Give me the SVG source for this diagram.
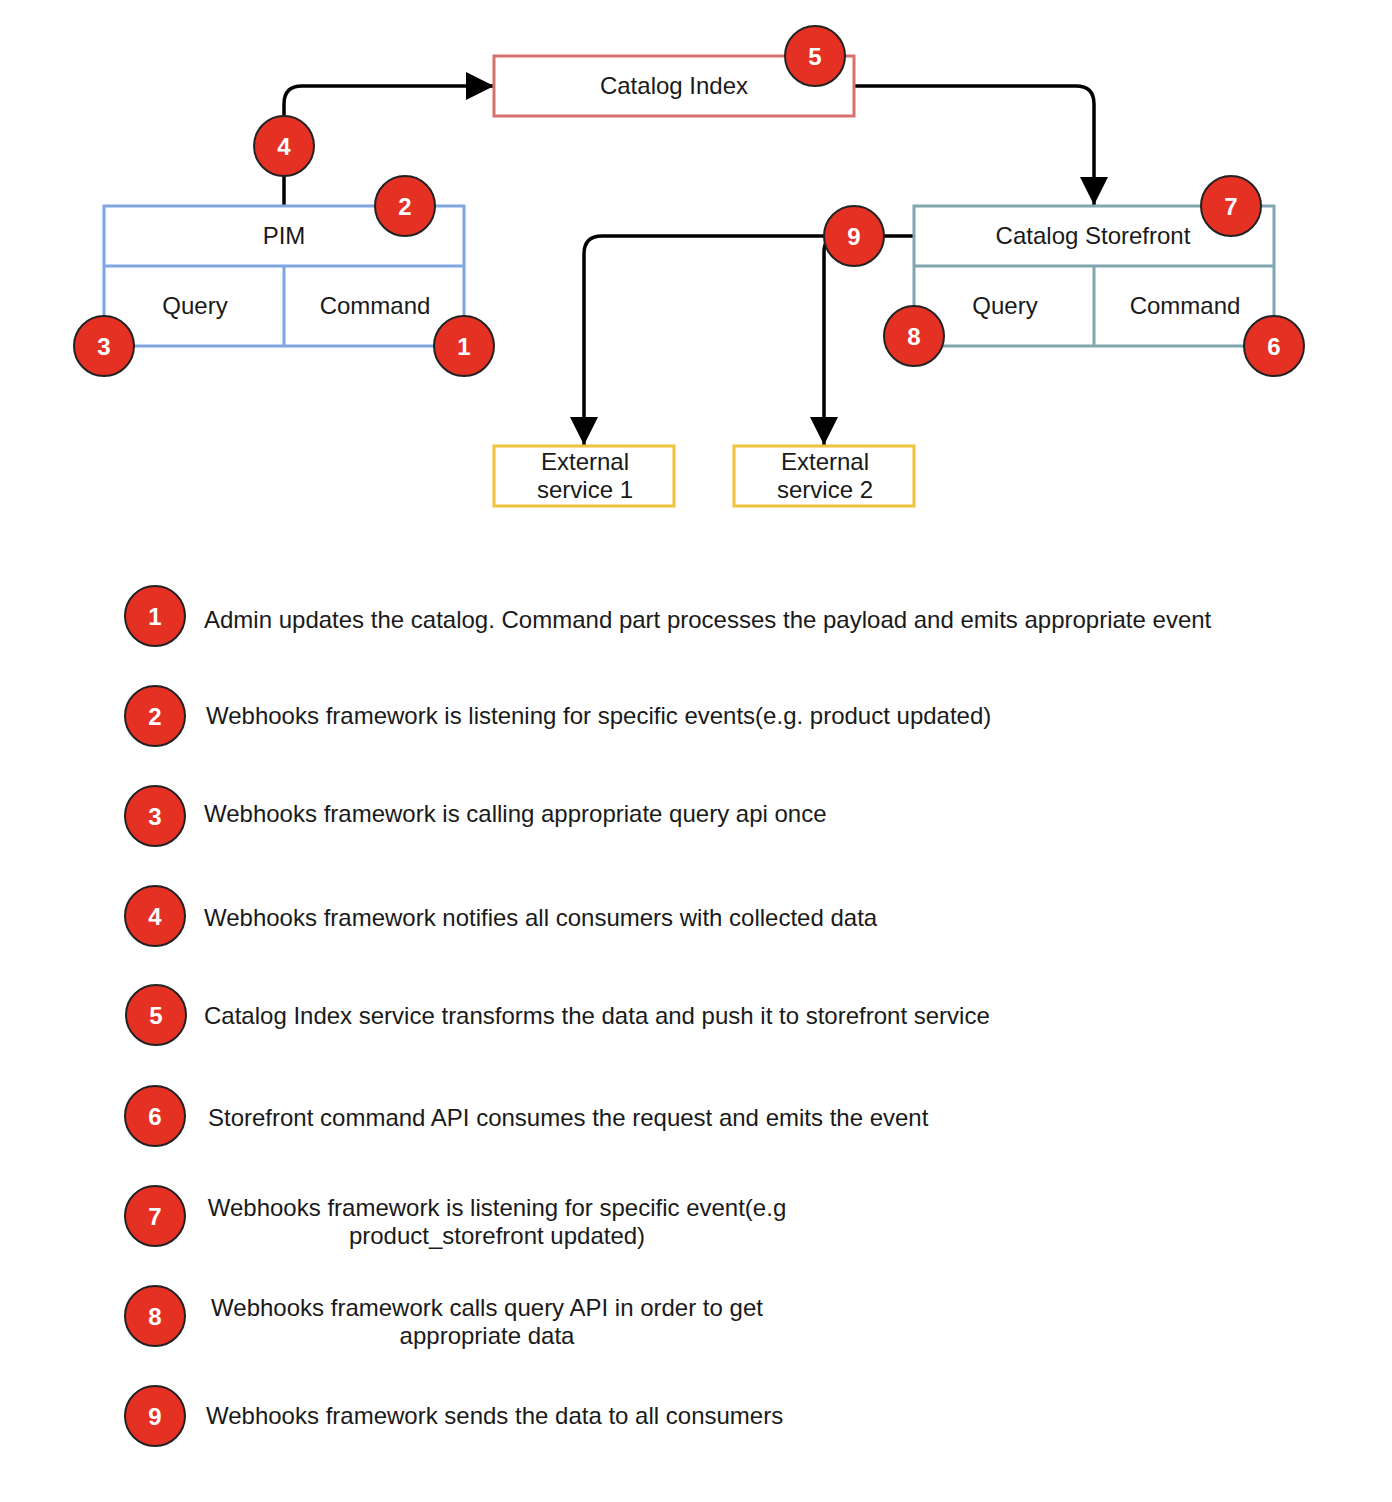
<svg xmlns="http://www.w3.org/2000/svg" width="1392" height="1502" viewBox="0 0 1392 1502">
<defs>
<marker id="arr" markerWidth="8" markerHeight="8" refX="8" refY="4" orient="auto" markerUnits="strokeWidth">
<path d="M0,0 L8,4 L0,8 Z" fill="#000"/>
</marker>
</defs>
<style>
text{font-family:"Liberation Sans",Arial,sans-serif;fill:#1a1a1a}
.lbl{font-size:24px;text-anchor:middle}
.leg{font-size:24px}
.box{fill:#fff;stroke-width:3}
.pim{stroke:#7ea6e0}
.idx{stroke:#d97070}
.sf{stroke:#80a6b0}
.ext{stroke:#f0c23c}
.badge circle{fill:#e53024;stroke:#222;stroke-width:2}
.badge text{fill:#fff;font-size:24px;font-weight:bold;text-anchor:middle}
.conn{fill:none;stroke:#000;stroke-width:3.5}
</style>
<rect width="1392" height="1502" fill="#fff"/>

<g id="connectors">
<path class="conn" d="M284,206 L284,104 Q284,86 302,86 L494,86" marker-end="url(#arr)"/>
<path class="conn" d="M854,86 L1076,86 Q1094,86 1094,104 L1094,205" marker-end="url(#arr)"/>
<path class="conn" d="M914,236 L602,236 Q584,236 584,254 L584,445" marker-end="url(#arr)"/>
<path class="conn" d="M840,236 Q824,236 824,252 L824,445" marker-end="url(#arr)"/>
</g>

<g id="catalog-index">
<rect class="box idx" x="494" y="56" width="360" height="60"/>
<text class="lbl" x="674" y="94">Catalog Index</text>
</g>

<g id="pim">
<rect class="box pim" x="104" y="206" width="360" height="140"/>
<line class="pim" x1="104" y1="266" x2="464" y2="266" stroke-width="3"/>
<line class="pim" x1="284" y1="266" x2="284" y2="346" stroke-width="3"/>
<text class="lbl" x="284" y="244">PIM</text>
<text class="lbl" x="195" y="314">Query</text>
<text class="lbl" x="375" y="314">Command</text>
</g>

<g id="catalog-storefront">
<rect class="box sf" x="914" y="206" width="360" height="140"/>
<line class="sf" x1="914" y1="266" x2="1274" y2="266" stroke-width="3"/>
<line class="sf" x1="1094" y1="266" x2="1094" y2="346" stroke-width="3"/>
<text class="lbl" x="1093" y="244">Catalog Storefront</text>
<text class="lbl" x="1005" y="314">Query</text>
<text class="lbl" x="1185" y="314">Command</text>
</g>

<g id="external-service-1">
<rect class="box ext" x="494" y="446" width="180" height="60"/>
<text class="lbl" x="585" y="470">External</text>
<text class="lbl" x="585" y="498">service 1</text>
</g>

<g id="external-service-2">
<rect class="box ext" x="734" y="446" width="180" height="60"/>
<text class="lbl" x="825" y="470">External</text>
<text class="lbl" x="825" y="498">service 2</text>
</g>

<g id="badge-4" class="badge"><circle cx="284" cy="146" r="30"/><text x="284" y="155">4</text></g>
<g id="badge-2" class="badge"><circle cx="405" cy="206" r="30"/><text x="405" y="215">2</text></g>
<g id="badge-3" class="badge"><circle cx="104" cy="346" r="30"/><text x="104" y="355">3</text></g>
<g id="badge-1" class="badge"><circle cx="464" cy="346" r="30"/><text x="464" y="355">1</text></g>
<g id="badge-5" class="badge"><circle cx="815" cy="56" r="30"/><text x="815" y="65">5</text></g>
<g id="badge-7" class="badge"><circle cx="1231" cy="206" r="30"/><text x="1231" y="215">7</text></g>
<g id="badge-8" class="badge"><circle cx="914" cy="336" r="30"/><text x="914" y="345">8</text></g>
<g id="badge-6" class="badge"><circle cx="1274" cy="346" r="30"/><text x="1274" y="355">6</text></g>
<g id="badge-9" class="badge"><circle cx="854" cy="236" r="30"/><text x="854" y="245">9</text></g>

<g id="legend">
<g class="badge"><circle cx="155" cy="616" r="30"/><text x="155" y="625">1</text></g>
<text class="leg" x="204" y="628">Admin updates the catalog. Command part processes the payload and emits appropriate event</text>
<g class="badge"><circle cx="155" cy="716" r="30"/><text x="155" y="725">2</text></g>
<text class="leg" x="206" y="724">Webhooks framework is listening for specific events(e.g. product updated)</text>
<g class="badge"><circle cx="155" cy="816" r="30"/><text x="155" y="825">3</text></g>
<text class="leg" x="204" y="822">Webhooks framework is calling appropriate query api once</text>
<g class="badge"><circle cx="155" cy="916" r="30"/><text x="155" y="925">4</text></g>
<text class="leg" x="204" y="926">Webhooks framework notifies all consumers with collected data</text>
<g class="badge"><circle cx="156" cy="1015" r="30"/><text x="156" y="1024">5</text></g>
<text class="leg" x="204" y="1024">Catalog Index service transforms the data and push it to storefront service</text>
<g class="badge"><circle cx="155" cy="1116" r="30"/><text x="155" y="1125">6</text></g>
<text class="leg" x="208" y="1126">Storefront command API consumes the request and emits the event</text>
<g class="badge"><circle cx="155" cy="1216" r="30"/><text x="155" y="1225">7</text></g>
<text class="leg" x="497" y="1216" text-anchor="middle">Webhooks framework is listening for specific event(e.g</text>
<text class="leg" x="497" y="1244" text-anchor="middle">product_storefront updated)</text>
<g class="badge"><circle cx="155" cy="1316" r="30"/><text x="155" y="1325">8</text></g>
<text class="leg" x="487" y="1316" text-anchor="middle">Webhooks framework calls query API in order to get</text>
<text class="leg" x="487" y="1344" text-anchor="middle">appropriate data</text>
<g class="badge"><circle cx="155" cy="1416" r="30"/><text x="155" y="1425">9</text></g>
<text class="leg" x="206" y="1424">Webhooks framework sends the data to all consumers</text>
</g>
</svg>
